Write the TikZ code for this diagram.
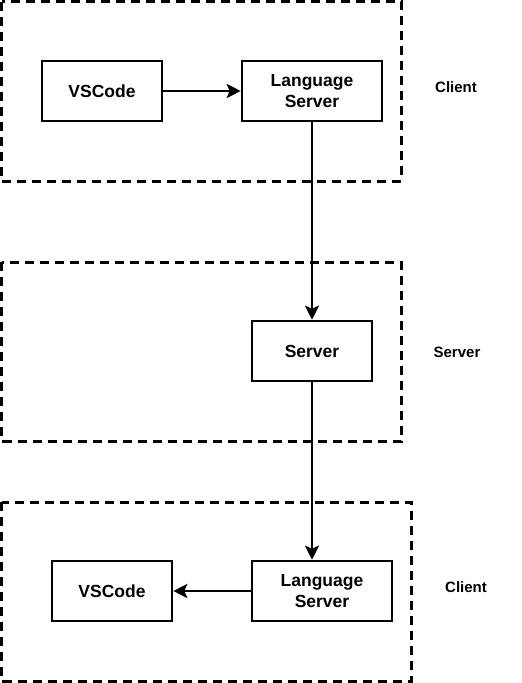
\documentclass[tikz,border=0pt]{standalone}
\usepackage{fontspec}
\setmainfont{Liberation Sans}
\usetikzlibrary{arrows.meta}
\begin{document}
\begin{tikzpicture}[x=1pt,y=-1pt,
  group/.style={draw, line width=3pt, dash pattern=on 9pt off 6pt},
  box/.style={draw, line width=2.6pt, minimum width=120pt, minimum height=60pt, inner sep=0pt, align=center, font=\bfseries\fontsize{17.5}{20.5}\selectfont},
  lsbox/.style={box, minimum width=140pt},
  lab/.style={font=\bfseries\fontsize{15}{17}\selectfont},
  conn/.style={line width=2.6pt, -{Stealth[length=14pt,width=14pt,inset=3pt]}}]
\useasboundingbox (0,0) rectangle (522,683);
\fill[white] (0,0) rectangle (522,683);
% groups
\draw[group] (1.5,1.5) rectangle (401,181);
\draw[group] (1.5,262) rectangle (401,441);
\draw[group] (1.5,502) rectangle (411,681);
% nodes
\node[box] (vs1) at (102,91) {VSCode};
\node[lsbox] (ls1) at (312,91) {Language\\Server};
\node[box] (srv) at (312,351) {Server};
\node[lsbox] (ls2) at (322,591) {Language\\Server};
\node[box] (vs2) at (112,591) {VSCode};
% labels
\node[lab] (c1) at (456,87) {Client};
\node[lab] (s1) at (457,352) {Server};
\node[lab] (c2) at (466,587) {Client};
% connectors
\draw[conn] (vs1) -- (ls1);
\draw[conn] (ls1.south) -- (srv.north);
\draw[conn] (srv.south) -- (srv.south |- ls2.north);
\draw[conn] (ls2) -- (vs2);
\end{tikzpicture}
\end{document}
